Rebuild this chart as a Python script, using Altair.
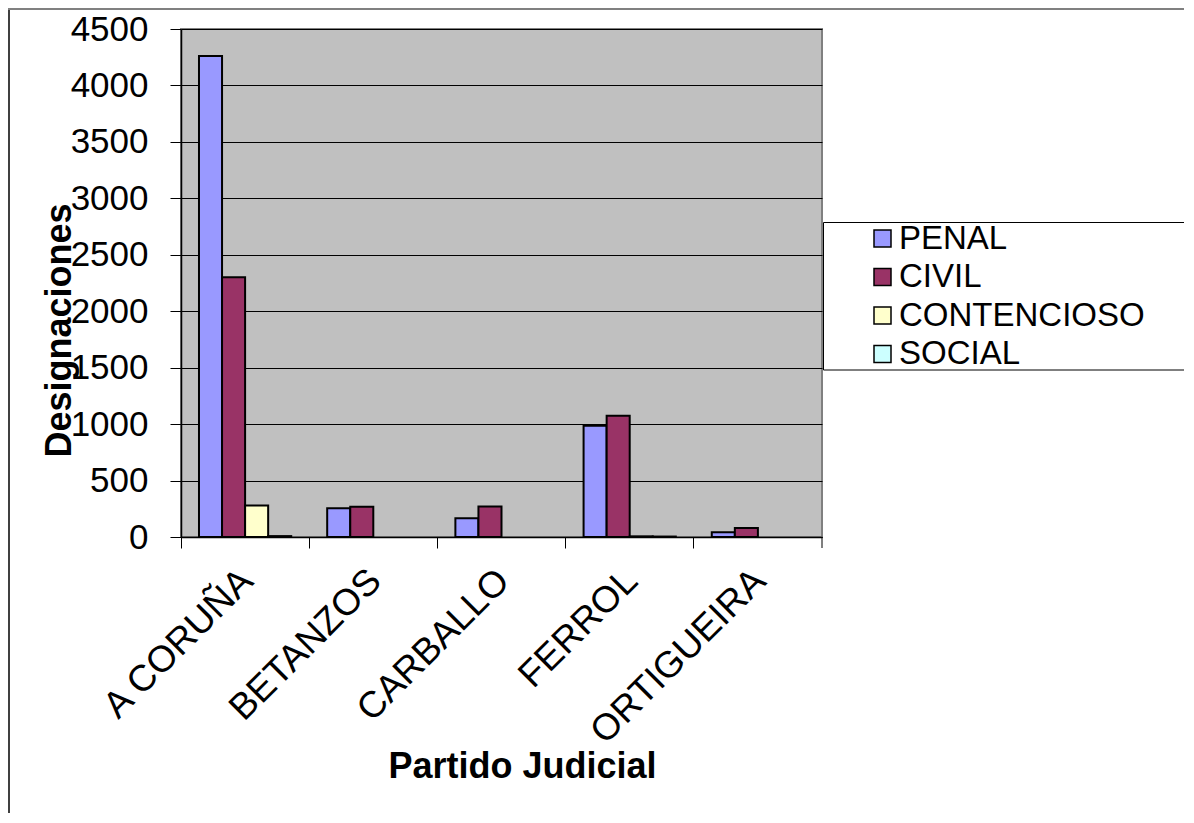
import altair as alt
import pandas as pd

partidos = ["A CORUÑA", "BETANZOS", "CARBALLO", "FERROL", "ORTIGUEIRA"]
series = ["PENAL", "CIVIL", "CONTENCIOSO", "SOCIAL"]
penal = [4260, 255, 165, 985, 42]
civil = [2300, 268, 270, 1075, 80]
contencioso = [280, None, None, 6, None]
social = [8, None, None, 4, None]
colors = ["#9999FF", "#993366", "#FFFFCC", "#CCFFFF"]
y_ticks = list(range(0, 4501, 500))

rows = []
for s, vals in zip(series, [penal, civil, contencioso, social]):
    for p, v in zip(partidos, vals):
        rows.append({"Partido": p, "Serie": s, "Valor": v})
df = pd.DataFrame(rows)

FONT = "Liberation Sans"
W, H = 641, 508

bars = alt.Chart(df).mark_bar(stroke="black", strokeWidth=2).encode(
    x=alt.X(
        "Partido:N",
        sort=partidos,
        scale=alt.Scale(domain=partidos, paddingInner=0, paddingOuter=0),
        axis=alt.Axis(
            title="Partido Judicial",
            bandPosition=0,
            labelOffset=2,
            labelAngle=-45,
            labelAlign="right",
            labelBaseline="middle",
            labelPadding=27,
            labelFontSize=37,
            labelFont=FONT,
            labelColor="black",
            labelLimit=0,
            tickSize=11,
            tickColor="black",
            domainColor="black",
            domainWidth=1.5,
            grid=False,
            titleFont=FONT,
            titleFontSize=36,
            titleFontWeight="bold",
            titleColor="black",
            titleX=341,
            titleY=240,
            titleAlign="center",
            titleBaseline="alphabetic",
        ),
    ),
    xOffset=alt.XOffset(
        "Serie:N",
        sort=series,
        scale=alt.Scale(domain=series, paddingInner=0, paddingOuter=0.78),
    ),
    y=alt.Y(
        "Valor:Q",
        scale=alt.Scale(domain=[0, 4500], nice=False),
        axis=alt.Axis(
            title="Designaciones",
            values=y_ticks,
            format="d",
            grid=True,
            gridColor="black",
            gridWidth=1,
            gridOpacity=1,
            tickSize=11,
            tickColor="black",
            domainColor="black",
            domainWidth=1.5,
            labelPadding=22,
            labelFontSize=35,
            labelFont=FONT,
            labelColor="black",
            titleFont=FONT,
            titleFontSize=36,
            titleFontWeight="bold",
            titleColor="black",
            titleAngle=270,
            titleX=-111,
            titleY=301,
            titleAlign="center",
            titleBaseline="alphabetic",
        ),
    ),
    color=alt.Color(
        "Serie:N",
        sort=series,
        scale=alt.Scale(domain=series, range=colors),
        legend=alt.Legend(
            title=None,
            orient="none",
            legendX=685,
            legendY=193,
            direction="vertical",
            labelFont=FONT,
            labelFontSize=33,
            labelColor="black",
            labelLimit=0,
            labelOffset=0,
            rowPadding=4.5,
            padding=0,
            symbolType="square",
            symbolSize=289,
            symbolStrokeColor="black",
            symbolStrokeWidth=1.5,
            symbolOpacity=1,
        ),
    ),
)

one = pd.DataFrame({"k": [0]})

legend_box = alt.Chart(one).mark_rect(fill="white", stroke="black", strokeWidth=1).encode(
    x=alt.value(642.5), x2=alt.value(1040), y=alt.value(193.5), y2=alt.value(341)
)

left_border = alt.Chart(one).mark_rule(color="#404040", strokeWidth=2).encode(
    x=alt.value(-172), y=alt.value(-21), y2=alt.value(800)
)
top_border = alt.Chart(one).mark_rule(color="#808080", strokeWidth=2).encode(
    x=alt.value(-173), x2=alt.value(1010), y=alt.value(-20)
)
last_tick = alt.Chart(one).mark_rule(color="black", strokeWidth=1).encode(
    x=alt.value(W), y=alt.value(H), y2=alt.value(H + 11)
)

chart = (
    alt.layer(legend_box, bars, left_border, top_border, last_tick)
    .properties(
        width=W,
        height=H,
        autosize=alt.AutoSizeParams(type="none"),
        padding={"left": 173, "top": 21, "right": 362, "bottom": 276},
        background="white",
    )
    .configure_view(fill="#C0C0C0", stroke="#808080", strokeWidth=2)
)

chart.save("out.html", embed_options={"renderer": "svg", "actions": False})
